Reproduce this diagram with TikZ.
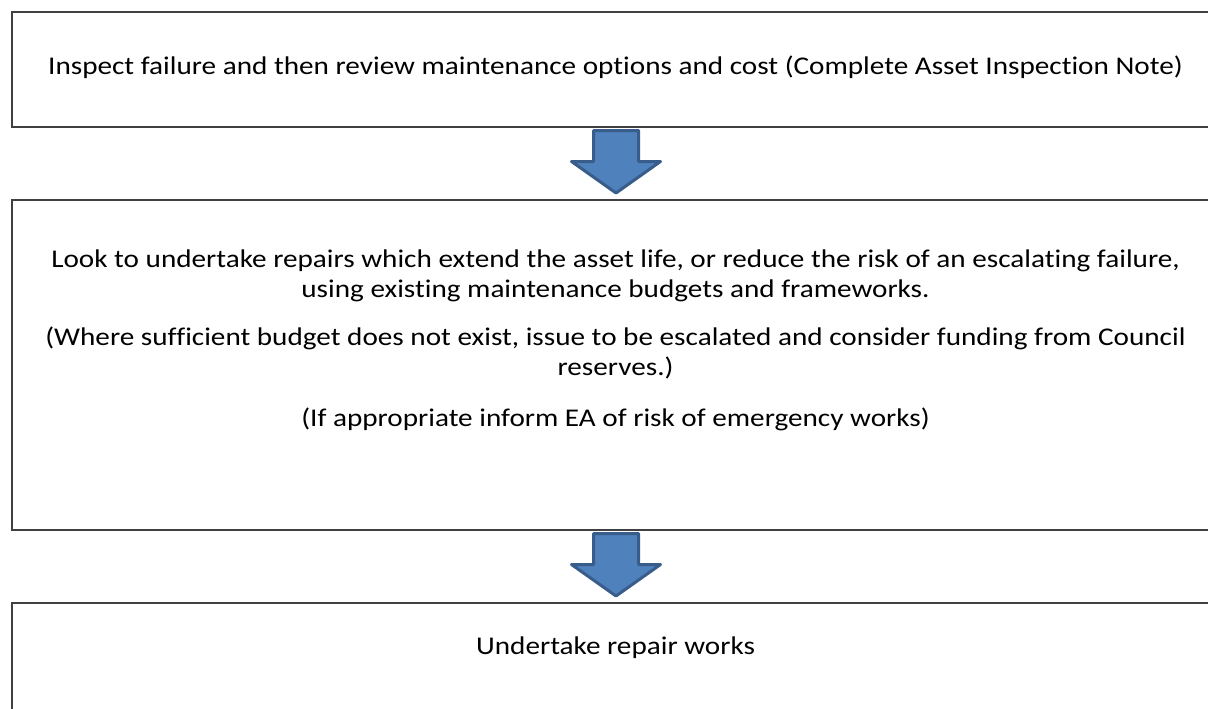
\documentclass[tikz,border=0pt]{standalone}
\usepackage{fontspec}
\setmainfont{Carlito}[FakeStretch=1.145,Ligatures=NoCommon]
\usetikzlibrary{calc}
\definecolor{boxline}{HTML}{404040}
\definecolor{arrowfill}{HTML}{4F81BD}
\definecolor{arrowline}{HTML}{385D8A}
\begin{document}
\begin{tikzpicture}[x=1pt,y=-1pt,
  stepbox/.style={draw=boxline,line width=2pt,rectangle,inner sep=0pt,anchor=north west},
  boxtext/.style={font=\fontsize{25.5}{30}\selectfont,align=center,inner sep=0pt},
  blockarrow/.style={fill=arrowfill,draw=arrowline,line width=3pt,line join=round}]
\useasboundingbox (0,0) rectangle (1208,709);
\clip (0,0) rectangle (1208,709);

% three process boxes (right edges run past the page)
\node[stepbox,minimum width=1208pt,minimum height=115pt] (b1) at (11,11) {};
\node[stepbox,minimum width=1208pt,minimum height=330pt] (b2) at (11,199) {};
\node[stepbox,minimum width=1208pt,minimum height=200pt] (b3) at (11,602) {};

% box texts
\node[boxtext] (t1) at (615.5,67) {Inspect failure and then review maintenance options and cost (Complete Asset Inspection Note)};
\node[boxtext,anchor=north] (t2) at (615.5,250) {Look to undertake repairs which extend the asset life, or reduce the risk of an escalating failure,\\
using existing maintenance budgets and frameworks.\\[18pt]
(Where sufficient budget does not exist, issue to be escalated and consider funding from Council\\
reserves.)\\[21pt]
(If appropriate inform EA of risk of emergency works)};
\node[boxtext] (t3) at (615.5,648) {Undertake repair works};

% block arrows between boxes
\foreach \a in {b1,b2}{
  \draw[blockarrow] ($(\a.south)+(-22.5,2.5)$) -- ($(\a.south)+(22.5,2.5)$)
    -- ($(\a.south)+(22.5,33.5)$) -- ($(\a.south)+(44.5,33.5)$)
    -- ($(\a.south)+(0,65)$) -- ($(\a.south)+(-44.5,33.5)$)
    -- ($(\a.south)+(-22.5,33.5)$) -- cycle;
}
\end{tikzpicture}
\end{document}
